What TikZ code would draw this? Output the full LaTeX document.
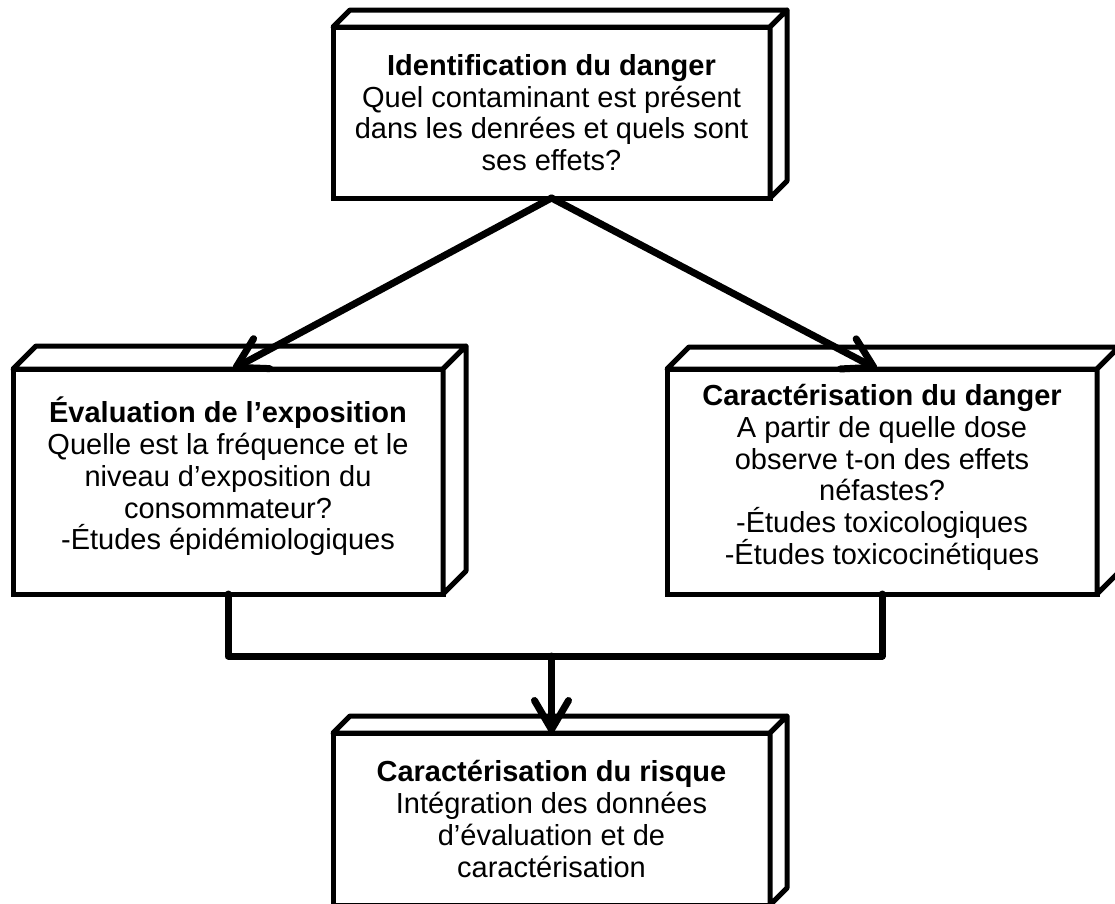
\documentclass[tikz,border=0pt]{standalone}
\usepackage{fontspec}
\setmainfont{Liberation Sans}
\usetikzlibrary{arrows.meta,calc}
\tikzset{
  front/.style={draw, line width=5pt, fill=white, inner sep=0pt, outer sep=0pt,
    align=center, font=\fontsize{29}{31.7}\selectfont},
  face/.style={draw, line width=5pt, fill=white, line join=round},
  conn/.style={line width=7pt, line join=round, line cap=round},
  barbtip/.style={-{Straight Barb[length=29pt,width=34pt,round]}}
}
\newcommand\threedbox[2]{%
  \filldraw[face] (#1.north west) -- ++(#2,-#2) -- ($(#1.north east)+(#2,-#2)$) -- (#1.north east) -- cycle;
  \filldraw[face] (#1.north east) -- ++(#2,-#2) -- ($(#1.south east)+(#2,-#2)$) -- (#1.south east) -- cycle;
}
\begin{document}
\begin{tikzpicture}[x=1pt,y=-1pt]
\useasboundingbox (0,0) rectangle (1115,903);
\clip (0,0) rectangle (1115,903);

\node[front, minimum width=437pt, minimum height=171pt] (top) at (551.5,112.5)
  {\textbf{Identification du danger}\\Quel contaminant est présent\\dans les denrées et quels sont\\ses effets?};
\threedbox{top}{17}

\node[front, minimum width=430pt, minimum height=225pt, text depth=16pt] (left) at (228,481.5)
  {\textbf{Évaluation de l’exposition}\\Quelle est la fréquence et le\\niveau d’exposition du\\consommateur?\\-Études épidémiologiques};
\threedbox{left}{23}

\node[front, minimum width=430pt, minimum height=225pt, text depth=14pt] (right) at (882,481.5)
  {\textbf{Caractérisation du danger}\\A partir de quelle dose\\observe t-on des effets\\néfastes?\\-Études toxicologiques\\-Études toxicocinétiques};
\threedbox{right}{22}

\node[front, minimum width=437pt, minimum height=172pt] (bottom) at (551.5,819)
  {\textbf{Caractérisation du risque}\\Intégration des données\\d’évaluation et de\\caractérisation};
\threedbox{bottom}{17}

\coordinate (j) at (551.5,656);

\draw[conn, barbtip] (top.south) -- ([xshift=5pt]left.north);
\draw[conn, barbtip] (top.south) -- ([xshift=-5pt]right.north);
\draw[conn] (left.south) |- (j) -| (right.south);
\draw[conn, barbtip] (j) -- (bottom.north);
\end{tikzpicture}
\end{document}
